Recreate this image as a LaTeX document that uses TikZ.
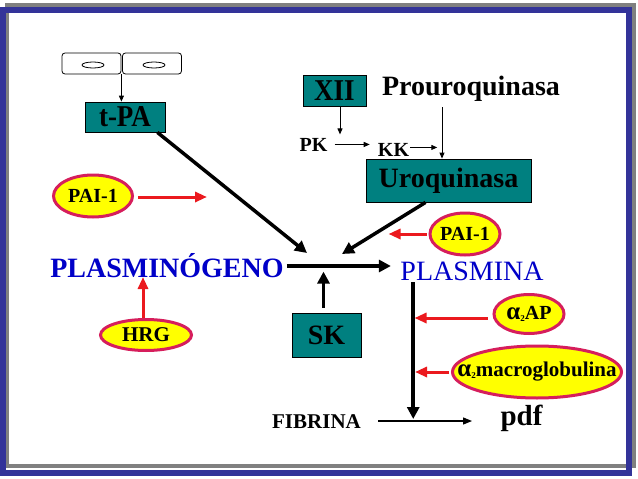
\documentclass[tikz,border=0pt]{standalone}
\usepackage{fontspec}
\usepackage{graphicx}
\setmainfont{Liberation Serif}
\usetikzlibrary{arrows.meta,shapes.geometric}
\definecolor{tealbox}{RGB}{0,128,128}
\definecolor{pillfill}{RGB}{255,255,0}
\definecolor{pillline}{RGB}{214,30,92}
\definecolor{redarr}{RGB}{235,25,30}
\definecolor{textblue}{RGB}{0,0,200}
\definecolor{frameblue}{RGB}{51,51,153}
\definecolor{framegray}{RGB}{128,128,128}
\newcommand{\tallbox}[1]{\scalebox{1}[1.12]{#1}}
\newcommand{\alphatwo}{{\fontsize{25}{25}\selectfont α}\raisebox{-2pt}{\fontsize{9}{9}\selectfont 2}}
\begin{document}
\begin{tikzpicture}[x=1pt,y=-1pt,
  tbox/.style={draw=black, line width=0.8pt, fill=tealbox, inner sep=0pt, font=\fontsize{27}{27}\selectfont\bfseries},
  pill/.style={ellipse, draw=pillline, line width=3pt, fill=pillfill, inner sep=0pt},
  pilltext/.style={font=\fontsize{20}{20}\selectfont\bfseries, inner sep=0pt},
  lbl/.style={anchor=base, inner sep=0pt},
  cell/.style={draw, line width=0.8pt, rounded corners=3pt, minimum width=59pt, minimum height=21pt, inner sep=0pt},
  nucleus/.style={ellipse, draw, line width=0.8pt, minimum width=22pt, minimum height=6pt, inner sep=0pt},
  bigarrow/.style={line width=3.5pt, -{Triangle[length=12pt,width=12pt]}},
  thinarrow/.style={line width=1pt, -{Triangle[length=6pt,width=5pt]}},
  redarrow/.style={draw=redarr, line width=3pt, -{Triangle[length=12pt,width=10pt]}},
]
\useasboundingbox (0,0) rectangle (638,479);
\fill[white] (0,0) rectangle (638,479);
\draw[framegray, line width=4pt] (6.5,4.5) rectangle (634,466);
\draw[frameblue, line width=6pt] (2.5,10) rectangle (629,472.5);

% endothelial cells
\node[cell] (cell1) at (91.5,63.5) {};
\node[cell] (cell2) at (152,63.5) {};
\node[nucleus] (nuc1) at (93,65) {};
\node[nucleus] (nuc2) at (154,65) {};

% boxes
\node[tbox, minimum width=80pt, minimum height=30pt] (tpa) at (125,117) {\tallbox{t-PA}};
\node[tbox, minimum width=63pt, minimum height=31pt] (xii) at (334.5,90.5) {\tallbox{XII}};
\node[tbox, minimum width=165pt, minimum height=43pt, font=\fontsize{28}{28}\selectfont\bfseries] (uro) at (448.5,180.5) {Uroquinasa};
\node[tbox, minimum width=69pt, minimum height=44pt, font=\fontsize{28}{28}\selectfont\bfseries] (sk) at (326.5,335) {SK};

% labels
\node[lbl, font=\fontsize{28}{28}\selectfont\bfseries] (prouro) at (471,95) {Prouroquinasa};
\node[lbl, font=\fontsize{20}{20}\selectfont\bfseries] (pk) at (313.5,151) {PK};
\node[lbl, font=\fontsize{20}{20}\selectfont\bfseries] (kk) at (393.5,156) {KK};
\node[lbl, font=\fontsize{28}{28}\selectfont\bfseries, text=textblue] (plg) at (167,277) {PLASMINÓGENO};
\node[lbl, font=\fontsize{28}{28}\selectfont, text=textblue] (pla) at (472,280) {PLASMINA};
\node[lbl, font=\fontsize{21}{21}\selectfont\bfseries] (fib) at (316.5,428) {FIBRINA};
\node[lbl, font=\fontsize{29}{29}\selectfont\bfseries] (pdf) at (521.5,425) {pdf};

% pills
\node[pill, minimum width=79pt, minimum height=42pt, label={[pilltext]center:PAI-1}] (pai1L) at (93,196) {};
\node[pill, minimum width=70pt, minimum height=42pt, label={[pilltext]center:PAI-1}] (pai1R) at (465,234) {};
\node[pill, minimum width=91pt, minimum height=31pt, label={[pilltext, font=\fontsize{21}{21}\selectfont\bfseries]center:HRG}] (hrg) at (146,335) {};
\node[pill, minimum width=70pt, minimum height=39pt, label={[pilltext]center:{\alphatwo AP}}] (a2ap) at (529,314) {};
\node[pill, minimum width=169pt, minimum height=52pt, label={[pilltext, font=\fontsize{21}{21}\selectfont\bfseries]center:{\alphatwo macroglobulina}}] (a2m) at (537,372) {};

% thin connectors
\draw[thinarrow] (cell1.south east) -- (cell1.south east |- tpa.north);
\draw[thinarrow] (xii.south) ++(5.5,0) -- ++(0,28);
\draw[thinarrow, shorten <=7pt, shorten >=8pt] (pk.east) -- (pk.east -| kk.west);
\draw[thinarrow] (kk.east) ++(1,-2) -- ++(27,0);
\coordinate (pv) at (442,107);
\draw[thinarrow] (pv) -- (pv |- uro.north);

% main black connectors
\coordinate (t1) at (307,253);
\coordinate (t2) at (342,254);
\draw[bigarrow] (tpa.south east) ++(-8,0) -- (t1);
\draw[bigarrow] (uro.south) ++(-23,0) -- (t2);
\draw[bigarrow] (plg.base east) ++(3,-11) -- ++(104,0);
\draw[bigarrow] (sk.north) ++(-3,-5) -- ++(0,-36);
\draw[bigarrow] (pla.base west) ++(13,2) -- ++(0,137);
\draw[line width=1.2pt, -{Triangle[length=9pt,width=7pt]}] (fib.base east) ++(17,-7) -- ++(94,0);

% red inhibitor arrows
\draw[redarrow] (pai1L.east) ++(4,1) -- ++(69,0);
\draw[redarrow] (pai1R.west) ++(-2,0) -- ++(-38,0);
\draw[redarrow] (hrg.north) ++(-3,0) -- ++(0,-41);
\draw[redarrow] (a2ap.west) ++(-5,4) -- ++(-73,0);
\draw[redarrow] (a2m.west) ++(-2,0) -- ++(-34,0);
\end{tikzpicture}
\end{document}
